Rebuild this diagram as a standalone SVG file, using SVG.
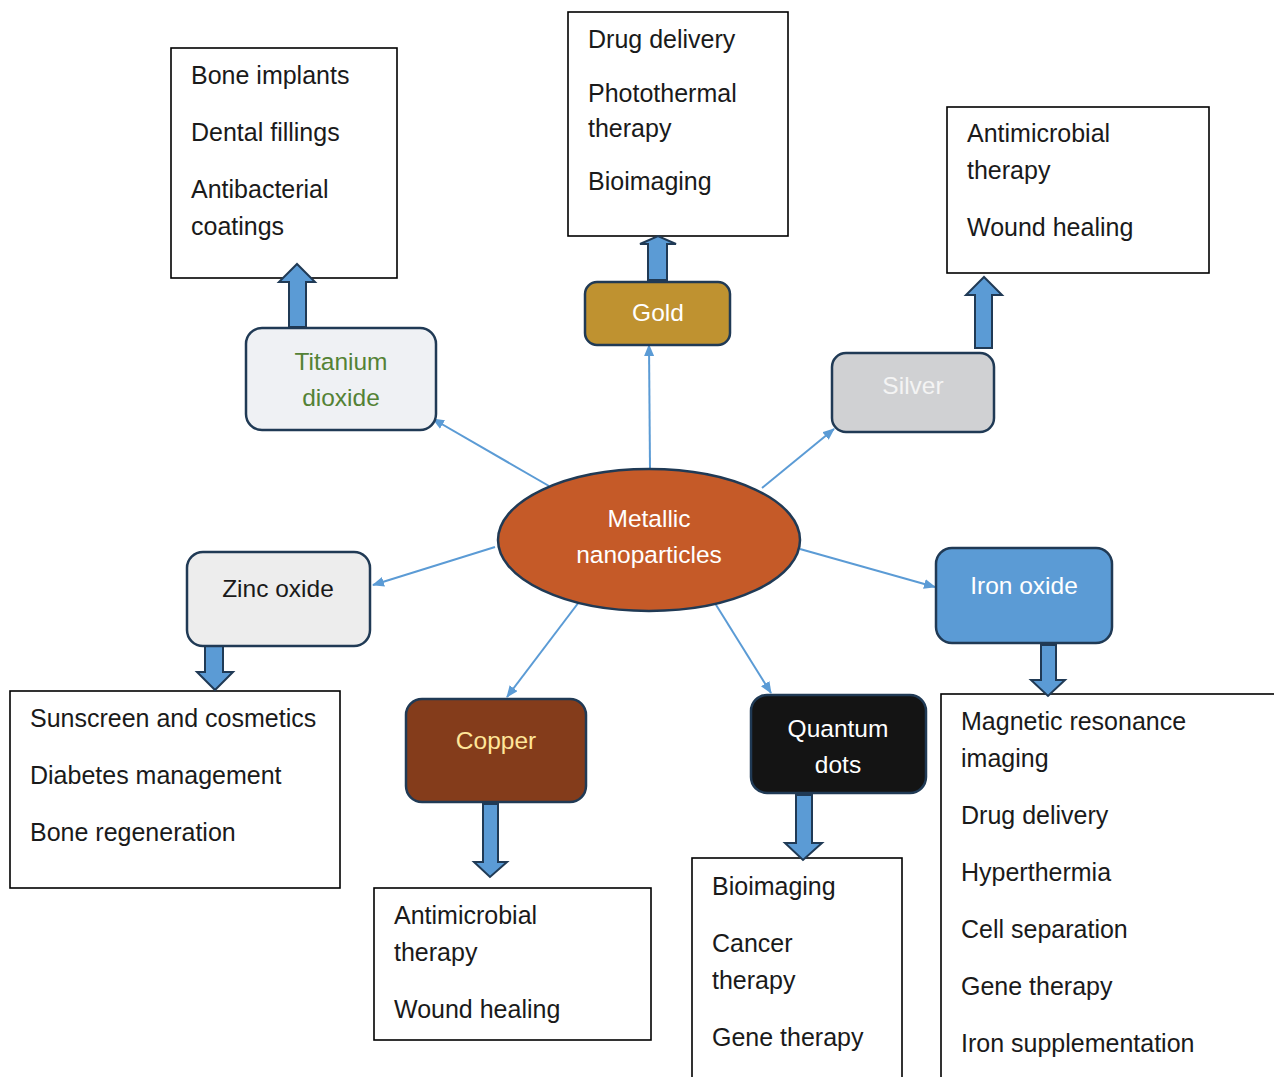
<svg xmlns="http://www.w3.org/2000/svg" width="1274" height="1077" viewBox="0 0 1274 1077">
<defs>
<marker id="ah" viewBox="0 0 12 10" refX="11" refY="5" markerWidth="12" markerHeight="10" markerUnits="userSpaceOnUse" orient="auto">
<path d="M0,0 L12,5 L0,10 Z" fill="#5b9bd5"/>
</marker>
<style>
.list{fill:#fff;stroke:#000;stroke-width:1.6}
.lt{font-family:"Liberation Sans",Arial,sans-serif;font-size:25px;fill:#1a1a1a}
.node{stroke:#203a55;stroke-width:2.5}
.nt{font-family:"Liberation Sans",Arial,sans-serif;font-size:24.5px;text-anchor:middle}
.conn{stroke:#5b9bd5;stroke-width:2;fill:none;marker-end:url(#ah)}
.blk{fill:#5b9bd5;stroke:#203a55;stroke-width:2;stroke-linejoin:miter}
</style>
</defs>
<rect width="1274" height="1077" fill="#fff"/>

<g id="list-titanium">
<rect class="list" x="171" y="48" width="226" height="230"/>
<text class="lt" x="191" y="84">Bone implants</text>
<text class="lt" x="191" y="141">Dental fillings</text>
<text class="lt" x="191" y="198">Antibacterial</text>
<text class="lt" x="191" y="235">coatings</text>
</g>
<g id="list-gold">
<rect class="list" x="568" y="12" width="220" height="224"/>
<text class="lt" x="588" y="48">Drug delivery</text>
<text class="lt" x="588" y="102">Photothermal</text>
<text class="lt" x="588" y="137">therapy</text>
<text class="lt" x="588" y="190">Bioimaging</text>
</g>
<g id="list-silver">
<rect class="list" x="947" y="107" width="262" height="166"/>
<text class="lt" x="967" y="142">Antimicrobial</text>
<text class="lt" x="967" y="179">therapy</text>
<text class="lt" x="967" y="236">Wound healing</text>
</g>
<g id="list-zinc">
<rect class="list" x="10" y="691" width="330" height="197"/>
<text class="lt" x="30" y="727">Sunscreen and cosmetics</text>
<text class="lt" x="30" y="784">Diabetes management</text>
<text class="lt" x="30" y="841">Bone regeneration</text>
</g>
<g id="list-copper">
<rect class="list" x="374" y="888" width="277" height="152"/>
<text class="lt" x="394" y="924">Antimicrobial</text>
<text class="lt" x="394" y="961">therapy</text>
<text class="lt" x="394" y="1018">Wound healing</text>
</g>
<g id="list-quantum">
<rect class="list" x="692" y="858" width="210" height="240"/>
<text class="lt" x="712" y="895">Bioimaging</text>
<text class="lt" x="712" y="952">Cancer</text>
<text class="lt" x="712" y="989">therapy</text>
<text class="lt" x="712" y="1046">Gene therapy</text>
</g>
<g id="list-iron">
<rect class="list" x="941" y="694" width="360" height="420"/>
<text class="lt" x="961" y="730">Magnetic resonance</text>
<text class="lt" x="961" y="767">imaging</text>
<text class="lt" x="961" y="824">Drug delivery</text>
<text class="lt" x="961" y="881">Hyperthermia</text>
<text class="lt" x="961" y="938">Cell separation</text>
<text class="lt" x="961" y="995">Gene therapy</text>
<text class="lt" x="961" y="1052">Iron supplementation</text>
</g>

<g id="connectors">
<line class="conn" x1="549" y1="486" x2="433" y2="419"/>
<line class="conn" x1="650" y1="469" x2="649" y2="345"/>
<line class="conn" x1="762" y1="488" x2="834" y2="429"/>
<line class="conn" x1="495" y1="547" x2="373" y2="585"/>
<line class="conn" x1="800" y1="549" x2="935" y2="587"/>
<line class="conn" x1="582" y1="598" x2="507" y2="697"/>
<line class="conn" x1="713" y1="600" x2="771" y2="693"/>
<polygon class="blk" points="289,327 289,282 279,282 297,264 315,282 306,282 306,327"/>
<polygon class="blk" points="648,280 648,244 640,244 658,236 676,244 667,244 667,280"/>
<polygon class="blk" points="975,348 975,295 966,295 984,277 1002,295 992,295 992,348"/>
<polygon class="blk" points="205,645 205,672 197,672 215,690 233,672 223,672 223,645"/>
<polygon class="blk" points="1041,645 1041,680 1031,680 1048,696 1065,680 1056,680 1056,645"/>
<polygon class="blk" points="796,795 796,843 785,843 803,860 822,843 812,843 812,795"/>
<polygon class="blk" points="483,804 483,862 474,862 490,877 507,862 498,862 498,804"/>
</g>

<g id="center">
<ellipse cx="649" cy="540" rx="151" ry="71" fill="#c55a28" class="node"/>
<text class="nt" x="649" y="527" fill="#fff">Metallic</text>
<text class="nt" x="649" y="563" fill="#fff">nanoparticles</text>
</g>
<g id="titanium">
<rect x="246" y="328" width="190" height="102" rx="16" fill="#eff1f4" class="node"/>
<text class="nt" x="341" y="370" fill="#548235">Titanium</text>
<text class="nt" x="341" y="406" fill="#548235">dioxide</text>
</g>
<g id="gold">
<rect x="585" y="282" width="145" height="63" rx="12" fill="#bf9230" class="node"/>
<text class="nt" x="658" y="321" fill="#fff">Gold</text>
</g>
<g id="silver">
<rect x="832" y="353" width="162" height="79" rx="14" fill="#d0d1d3" class="node"/>
<text class="nt" x="913" y="394" fill="#f4f4f4">Silver</text>
</g>
<g id="zinc">
<rect x="187" y="552" width="183" height="94" rx="16" fill="#ededed" class="node"/>
<text class="nt" x="278" y="597" fill="#1a1a1a">Zinc oxide</text>
</g>
<g id="iron">
<rect x="936" y="548" width="176" height="95" rx="16" fill="#5b9bd5" class="node"/>
<text class="nt" x="1024" y="594" fill="#fff">Iron oxide</text>
</g>
<g id="copper">
<rect x="406" y="699" width="180" height="103" rx="16" fill="#843c1b" class="node"/>
<text class="nt" x="496" y="749" fill="#ffe699">Copper</text>
</g>
<g id="quantum">
<rect x="751" y="695" width="175" height="98" rx="16" fill="#141414" class="node"/>
<text class="nt" x="838" y="737" fill="#fff">Quantum</text>
<text class="nt" x="838" y="773" fill="#fff">dots</text>
</g>
</svg>
